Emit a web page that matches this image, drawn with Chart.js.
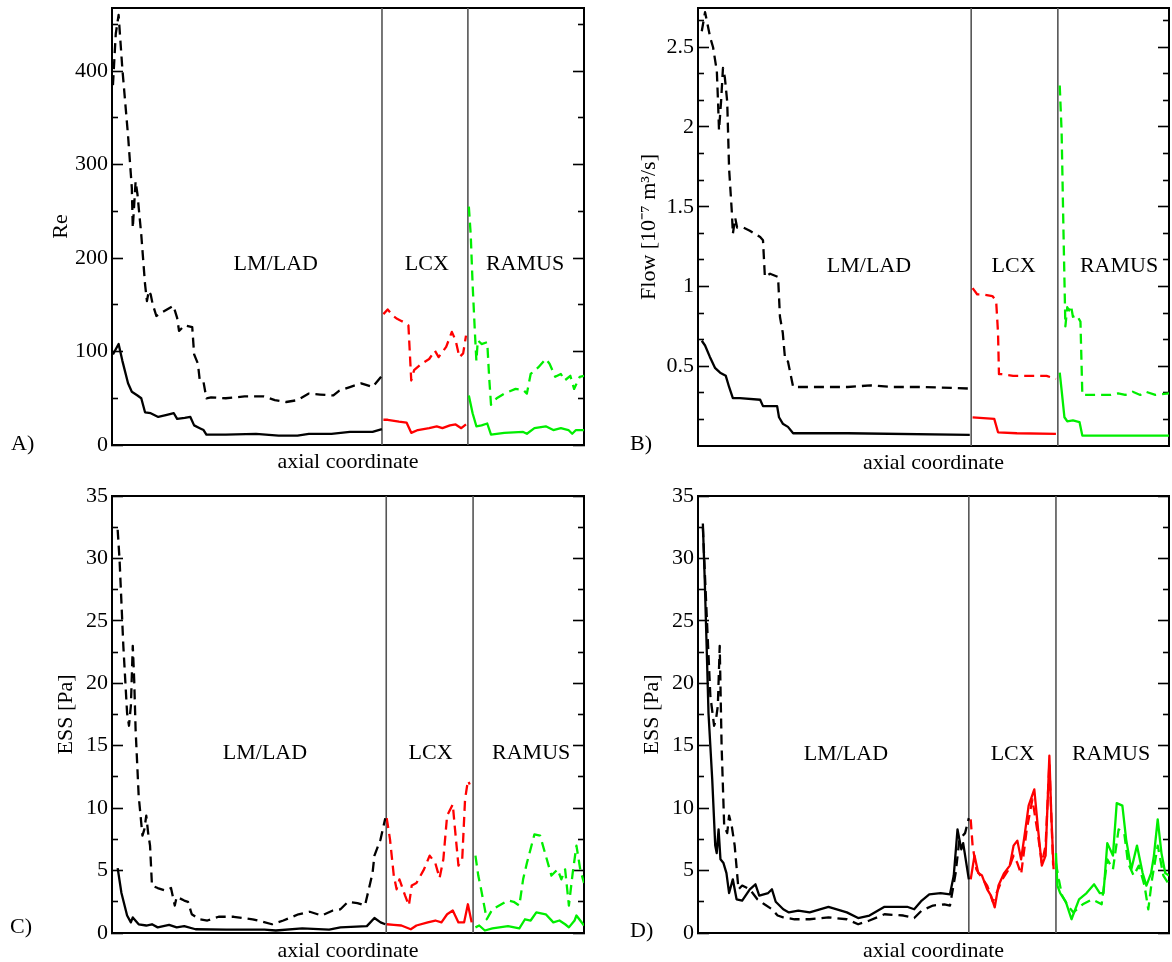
<!DOCTYPE html>
<html>
<head>
<meta charset="utf-8">
<script src="https://cdn.jsdelivr.net/npm/chart.js@4.4.1/dist/chart.umd.min.js"></script>
<style>
  html, body { margin: 0; padding: 0; background: #fff; }
  body { width: 1172px; height: 962px; position: relative; overflow: hidden; }
  .panel { position: absolute; }
  .letter { position: absolute; font-family: "Liberation Serif", serif; font-size: 22px; line-height: 24px; color: #000; }
</style>
</head>
<body>
<div class="panel" style="left:0;top:0;"><canvas id="cA" width="586" height="480"></canvas></div>
<div class="panel" style="left:586px;top:0;"><canvas id="cB" width="586" height="480"></canvas></div>
<div class="panel" style="left:0;top:480px;"><canvas id="cC" width="586" height="482"></canvas></div>
<div class="panel" style="left:586px;top:480px;"><canvas id="cD" width="586" height="482"></canvas></div>
<div class="letter" style="left:11px;top:431px;">A)</div>
<div class="letter" style="left:630px;top:431px;">B)</div>
<div class="letter" style="left:10px;top:914px;">C)</div>
<div class="letter" style="left:630px;top:918px;">D)</div>
<script>
// ---------------- DATA (x = axial coordinate in % of total length) ----------------
const regionNames = ['LM/LAD', 'LCX', 'RAMUS'];

// Panel A : Reynolds number
const reLadDashed = [[0.2,385],[0.8,440],[1.4,460],[2.2,402],[3.4,331],[4.2,275],[4.4,232],[5.0,282],[5.4,268],[6.2,225],[7.0,172],[7.4,154],[7.8,165],[8.2,161],[8.6,151],[9.4,138],[10.6,142],[13.0,149],[13.8,136],[14.2,122],[15.4,128],[17.0,126],[17.4,97],[18.2,87],[18.6,69],[19.4,67],[20.0,50],[21.0,51],[24.1,50],[28.1,52],[32.1,52],[34.5,48],[36.9,46],[39.3,48],[41.7,55],[44.1,54],[46.9,53],[48.1,58],[50.4,62],[52.8,66],[55.2,62],[57.2,74]];
const reLadSolid = [[0.2,97],[1.4,108],[2.2,90],[3.4,66],[4.2,57],[5.4,53],[6.2,50],[7.0,35],[8.2,34],[9.8,30],[11.4,32],[13.1,34],[13.8,28],[15.4,29],[16.6,30],[17.4,21],[18.6,18],[19.4,16],[20.0,11],[24.1,11],[30.5,12],[35.3,10],[39.3,10],[41.7,12],[46.5,12],[50.4,14],[55.2,14],[57.2,17]];
const reLcxDashed = [[57.5,140],[58.4,145],[59.6,138],[60.4,135],[61.2,133],[62.0,131],[62.8,128],[63.4,69],[64.0,80],[65.6,87],[67.2,92],[68.4,101],[69.2,94],[70.8,105],[72.0,121],[72.8,112],[73.6,94],[74.4,98],[75.0,117]];
const reLcxSolid = [[57.5,27],[58.4,27],[60.8,25],[62.4,24],[63.4,13],[64.8,16],[67.2,18],[68.8,20],[70.0,18],[71.6,21],[72.8,22],[74.0,18],[75.0,22]];
const reRamusDashed = [[75.6,255],[76.0,225],[76.4,172],[76.9,119],[77.2,90],[77.5,112],[78.3,108],[79.5,110],[79.9,73],[80.3,43],[81.5,50],[83.1,55],[85.5,60],[87.1,59],[87.9,55],[88.7,76],[90.3,83],[91.9,92],[92.7,87],[93.9,73],[95.1,76],[95.9,69],[97.1,74],[97.9,60],[99.1,73],[100,74]];
const reRamusSolid = [[75.6,53],[76.4,34],[77.2,20],[78.3,21],[79.5,23],[80.3,11],[83.1,13],[87.1,14],[87.9,12],[89.5,18],[91.9,20],[93.5,16],[95.1,18],[96.7,16],[97.5,12],[98.3,16],[100,16]];
const reTicksMajor = [0, 100, 200, 300, 400];
const reTicksMinor = [50, 150, 250, 350, 450];
const reDividers = [57.2, 75.4];

// Panel B : Flow [1e-7 m^3/s]
const flowLadDashed = [[0.8,2.60],[1.5,2.72],[2.6,2.56],[3.2,2.50],[4.0,2.35],[4.25,2.16],[4.46,1.98],[4.9,2.16],[5.3,2.37],[5.7,2.31],[6.2,2.16],[6.6,1.74],[7.2,1.46],[7.4,1.33],[7.9,1.43],[8.3,1.37],[9.6,1.37],[11.0,1.35],[13.2,1.31],[13.8,1.29],[14.2,1.06],[15.3,1.08],[17.0,1.06],[17.4,0.81],[18.0,0.71],[18.5,0.54],[19.1,0.53],[20.2,0.37],[23.9,0.37],[27.9,0.37],[31.8,0.37],[36.6,0.38],[41.4,0.37],[47.8,0.37],[57.7,0.36]];
const flowLadSolid = [[0.8,0.66],[1.5,0.63],[2.5,0.56],[3.6,0.49],[4.7,0.46],[5.9,0.44],[6.6,0.37],[7.4,0.30],[8.9,0.30],[13.2,0.29],[13.8,0.25],[16.8,0.25],[17.2,0.18],[18.0,0.14],[19.1,0.12],[20.2,0.08],[31.8,0.08],[57.7,0.07]];
const flowLcxDashed = [[58.3,0.99],[59.3,0.95],[60.5,0.95],[62.5,0.94],[63.3,0.91],[63.7,0.71],[63.9,0.45],[64.5,0.45],[66.9,0.44],[70.0,0.44],[74.0,0.44],[76.0,0.42]];
const flowLcxSolid = [[58.3,0.18],[62.9,0.17],[63.7,0.086],[67.7,0.08],[76.0,0.076]];
const flowRamusDashed = [[76.8,2.26],[77.2,1.97],[77.6,1.34],[78.0,0.75],[78.4,0.87],[78.8,0.85],[79.2,0.88],[79.6,0.81],[80.4,0.82],[81.2,0.78],[81.6,0.32],[84.4,0.32],[87.6,0.32],[89.2,0.33],[90.7,0.32],[92.3,0.34],[93.9,0.32],[95.1,0.34],[97.1,0.32],[100,0.33]];
const flowRamusSolid = [[76.8,0.46],[77.2,0.35],[77.8,0.18],[78.4,0.155],[79.6,0.16],[81.0,0.15],[81.6,0.065],[87.6,0.065],[100,0.065]];
const flowTicksMajor = [0.5, 1, 1.5, 2, 2.5];
const flowTicksMinor = [1/6, 2/6, 4/6, 5/6, 7/6, 8/6, 10/6, 11/6, 13/6, 14/6, 16/6];
const flowDividers = [58.0, 76.4];

// Panel C : ESS [Pa]
const essCLadDashed = [[1.2,32.3],[1.6,29.9],[2.4,23.0],[3.2,17.6],[3.6,16.6],[4.0,18.2],[4.4,23.0],[4.7,20.3],[5.0,16.3],[5.65,11.0],[6.05,9.4],[6.45,7.8],[6.85,8.3],[7.26,9.4],[7.66,8.0],[8.06,7.0],[8.47,3.8],[9.68,3.6],[11.3,3.4],[12.5,3.6],[13.3,2.2],[13.7,2.9],[15.3,2.6],[16.1,2.5],[16.9,1.5],[18.5,1.1],[20.2,1.0],[22.6,1.3],[25.8,1.3],[29.8,1.1],[33.9,0.7],[36.3,1.0],[39.5,1.5],[41.9,1.7],[44.4,1.4],[46.8,1.8],[48.4,1.9],[50.0,2.5],[52.0,2.4],[53.6,2.2],[54.4,3.5],[55.2,4.8],[55.6,6.2],[56.9,7.5],[57.9,9.2]];
const essCLadSolid = [[1.2,5.2],[2.0,3.2],[3.2,1.4],[4.0,0.85],[4.4,1.25],[5.65,0.7],[7.26,0.6],[8.47,0.7],[9.68,0.45],[12.1,0.65],[13.7,0.45],[15.3,0.55],[17.7,0.3],[24.2,0.27],[32.3,0.27],[34.7,0.2],[40.3,0.37],[46.0,0.27],[48.4,0.45],[54.0,0.55],[55.6,1.2],[56.9,0.85],[57.9,0.7]];
const essCLcxDashed = [[58.2,9.2],[58.9,7.5],[59.7,4.6],[60.3,3.5],[60.9,4.3],[62.1,3.0],[62.9,2.2],[63.5,3.8],[64.5,4.0],[66.1,5.1],[67.3,6.2],[68.5,5.6],[69.4,4.4],[70.2,5.9],[71.0,9.4],[72.2,10.3],[72.6,8.6],[73.4,5.4],[74.2,5.9],[74.8,10.7],[75.4,12.2],[75.8,11.9]];
const essCLcxSolid = [[58.2,0.7],[59.7,0.65],[61.3,0.6],[63.3,0.3],[64.5,0.6],[66.9,0.85],[68.5,1.0],[69.8,0.85],[71.0,1.5],[72.2,1.8],[73.4,0.85],[74.6,0.85],[75.4,2.3],[76.2,0.85]];
const essCRamusDashed = [[77.0,6.2],[77.6,4.6],[78.2,3.5],[79.4,1.1],[80.6,1.9],[83.9,2.6],[85.1,2.5],[86.3,2.2],[87.1,4.3],[87.9,5.6],[89.5,7.9],[90.7,7.8],[91.9,6.2],[93.1,4.6],[94.4,5.1],[95.2,4.3],[96.0,5.1],[96.8,2.2],[97.6,4.8],[98.4,7.0],[99.2,5.1],[100,4.0]];
const essCRamusSolid = [[77.0,0.45],[77.8,0.6],[79.0,0.2],[80.6,0.37],[83.9,0.55],[86.3,0.37],[87.5,1.1],[88.7,1.0],[89.9,1.65],[91.9,1.5],[93.5,0.85],[94.8,1.0],[96.0,0.7],[96.8,0.45],[98.0,1.0],[98.4,1.4],[99.2,1.0],[100,0.6]];
const essCDividers = [58.1, 76.5];

// Panel D : ESS [Pa]
const essDLadSolid = [[1.03,32.8],[1.43,28.3],[1.83,23.0],[2.23,17.6],[3.02,12.3],[3.66,7.0],[3.97,6.4],[4.37,8.3],[4.77,5.9],[5.41,5.6],[6.04,4.8],[6.60,3.2],[7.39,4.3],[8.19,2.7],[9.38,2.6],[11.0,3.5],[12.2,3.9],[13.0,3.0],[14.9,3.2],[15.7,3.5],[16.5,2.5],[18.1,1.9],[19.3,1.65],[21.3,1.8],[23.7,1.65],[27.7,2.1],[31.6,1.65],[34.0,1.2],[36.4,1.4],[39.6,2.1],[42.0,2.1],[44.4,2.1],[45.9,1.9],[47.5,2.6],[49.1,3.1],[51.5,3.2],[53.5,3.1],[54.3,4.6],[55.1,8.3],[55.9,6.7],[56.3,7.2],[57.5,4.3]];
const essDLadDashed = [[1.03,32.5],[1.83,25.6],[2.62,19.0],[3.42,16.6],[3.82,17.1],[4.21,18.2],[4.61,23.0],[5.01,15.0],[5.56,8.6],[6.20,8.0],[6.60,9.4],[7.15,8.6],[7.79,7.0],[8.59,3.5],[9.38,3.8],[11.0,3.5],[12.6,2.7],[14.1,2.3],[15.7,1.9],[16.9,1.4],[18.1,1.25],[20.5,1.1],[23.7,1.1],[27.7,1.25],[31.6,1.1],[34.0,0.7],[36.4,1.0],[39.6,1.5],[43.6,1.4],[45.9,1.2],[47.5,1.8],[49.9,2.2],[52.3,2.3],[53.5,2.2],[54.7,4.8],[55.5,7.5],[56.7,8.0],[57.5,9.2]];
const essDLcxSolid = [[57.9,4.3],[58.7,6.2],[59.5,4.8],[60.3,4.6],[61.4,3.5],[62.2,3.0],[63.0,2.05],[63.8,3.8],[65.0,4.8],[66.2,5.4],[67.0,7.0],[67.8,7.4],[68.6,5.9],[69.4,8.0],[70.2,10.2],[71.4,11.5],[72.2,8.3],[73.0,5.4],[73.8,6.2],[74.6,14.2],[75.0,9.6],[75.5,5.1]];
const essDLcxDashed = [[57.9,9.1],[58.3,7.0],[59.1,5.1],[60.3,4.4],[61.4,3.8],[62.6,2.5],[63.4,3.2],[64.6,4.3],[65.8,5.0],[67.0,6.2],[67.8,5.6],[68.6,4.7],[69.8,8.3],[71.0,10.7],[72.2,7.8],[73.0,5.6],[73.8,7.0],[74.6,13.6],[75.4,5.4]];
const essDRamusSolid = [[76.0,6.4],[76.3,3.8],[76.9,3.2],[78.1,2.5],[79.3,1.1],[80.9,2.7],[82.5,3.2],[84.1,3.9],[85.3,3.2],[86.1,3.2],[86.9,7.2],[88.1,6.2],[88.9,10.4],[90.1,10.2],[90.9,7.5],[92.0,5.1],[93.2,7.0],[94.4,4.8],[95.2,3.8],[96.2,4.8],[96.8,6.2],[97.6,9.1],[98.4,6.4],[99.2,4.8],[100,4.6]];
const essDRamusDashed = [[76.0,5.6],[76.6,4.3],[77.3,3.0],[78.5,2.2],[79.7,1.65],[81.7,2.3],[83.7,2.7],[85.7,2.3],[86.9,5.9],[88.1,5.1],[89.3,8.3],[90.5,8.0],[91.3,5.6],[92.5,4.6],[93.6,5.4],[94.8,3.8],[95.6,1.9],[96.4,4.3],[97.6,7.0],[98.8,4.6],[99.8,4.0]];
const essDDividers = [57.5, 76.0];

const essTicksMajor = [0, 5, 10, 15, 20, 25, 30, 35];
const essTicksMinor = [2.5, 7.5, 12.5, 17.5, 22.5, 27.5, 32.5];

// ---------------- STYLE ----------------
const FONT = '"Liberation Serif", "Times New Roman", serif';
const FS = 22;
const BLACK = '#000000', RED = '#ff0000', GREEN = '#00ee00', DIV = '#555555';

const pts = arr => arr.map(([x, y]) => ({x, y}));

function line(data, color, dashed) {
  return {
    data: pts(data), borderColor: color, borderWidth: 2.3,
    borderDash: dashed ? [10, 6] : [], pointRadius: 0, tension: 0,
    borderJoinStyle: 'round', fill: false, xAxisID: 'x', yAxisID: 'y'
  };
}

const regionText = {
  id: 'regionText',
  afterDatasetsDraw(chart, args, opts) {
    const {ctx} = chart;
    const xs = chart.scales.x, ys = chart.scales.y;
    ctx.save();
    ctx.font = FS + 'px ' + FONT;
    ctx.fillStyle = '#000';
    ctx.textAlign = 'center';
    ctx.textBaseline = 'middle';
    opts.items.forEach((it, i) => {
      ctx.fillText(regionNames[i], xs.getPixelForValue(it[0]), ys.getPixelForValue(it[1]));
    });
    ctx.restore();
  }
};

function noPad(s) { s.paddingTop = 0; s.paddingBottom = 0; s.paddingLeft = 0; s.paddingRight = 0; }

function makePanel(id, p) {
  const datasets = [];
  p.series.forEach(s => datasets.push(line(s[0], s[1], s[2])));
  p.dividers.forEach(d => datasets.push({
    data: [{x: d, y: p.yMin}, {x: d, y: p.yMax}], borderColor: DIV, borderWidth: 1.6,
    pointRadius: 0, borderDash: [], xAxisID: 'x', yAxisID: 'y'
  }));
  const tickFont = {family: FONT, size: FS};
  const setTicks = list => (s => { s.ticks = list.map(v => ({value: v})); });
  const yBase = (list, pos, len, labels, weight, w) => ({
    type: 'linear', position: pos, min: p.yMin, max: p.yMax, weight: weight,
    afterBuildTicks: setTicks(list),
    afterFit: s => { s.width = w; noPad(s); },
    grid: {drawOnChartArea: false, drawTicks: true, tickLength: len, tickWidth: 1.6, tickColor: '#000'},
    border: {display: false},
    ticks: {display: labels, font: tickFont, color: '#000', padding: 15, autoSkip: false, maxRotation: 0,
      callback: v => p.fmt(v)}
  });
  const yMain = yBase(p.major, 'left', -11, true, 2, p.left);
  yMain.border = {display: true, color: '#000', width: 2};
  yMain.title = {display: true, text: p.yTitle, color: '#000',
    font: {family: FONT, size: FS, lineHeight: 1}, padding: {top: p.yTitlePad, bottom: 0}};
  const scales = {
    x: {
      type: 'linear', position: 'bottom', min: 0, max: 100,
      afterFit: s => { s.height = p.bottomH; noPad(s); },
      grid: {display: false, drawTicks: false},
      border: {display: true, color: '#000', width: 2},
      ticks: {display: false},
      title: {display: true, text: 'axial coordinate', color: '#000',
        font: {family: FONT, size: FS, lineHeight: 1}, padding: {top: 0, bottom: p.xTitlePad}}
    },
    xTop: {
      type: 'linear', position: 'top', min: 0, max: 100,
      afterFit: s => { s.height = 0; noPad(s); },
      grid: {display: false, drawTicks: false},
      border: {display: true, color: '#000', width: 2},
      ticks: {display: false}
    },
    y: yMain,
    yMinor: yBase(p.minor, 'left', -6, false, 1, 0),
    yR: Object.assign(yBase(p.major, 'right', -11, false, 1, 0), {border: {display: true, color: '#000', width: 2}}),
    yRMinor: yBase(p.minor, 'right', -6, false, 2, 0)
  };
  new Chart(document.getElementById(id), {
    type: 'line',
    data: {datasets},
    options: {
      responsive: false, animation: false, events: [],
      layout: {padding: {top: p.top, right: p.right, left: 0, bottom: 0}},
      plugins: {legend: {display: false}, tooltip: {enabled: false}, title: {display: false},
        regionText: {items: p.labels}},
      scales
    },
    plugins: [regionText]
  });
}

function build() {
  makePanel('cA', {
    yMin: 0, yMax: 467.5, major: reTicksMajor, minor: reTicksMinor, fmt: v => String(v),
    yTitle: 'Re', yTitlePad: 50, left: 112, right: 2, top: 8, bottomH: 35, xTitlePad: 7,
    dividers: reDividers,
    series: [[reLadDashed, BLACK, true], [reLadSolid, BLACK, false],
             [reLcxDashed, RED, true], [reLcxSolid, RED, false],
             [reRamusDashed, GREEN, true], [reRamusSolid, GREEN, false]],
    labels: [[34.7, 193], [66.7, 193], [87.5, 193]]
  });
  makePanel('cB', {
    yMin: 0, yMax: 2.746, major: flowTicksMajor, minor: flowTicksMinor, fmt: v => String(v),
    yTitle: 'Flow [10\u207B\u2077 m\u00B3/s]', yTitlePad: 52, left: 112, right: 3, top: 8, bottomH: 34, xTitlePad: 6,
    dividers: flowDividers,
    series: [[flowLadDashed, BLACK, true], [flowLadSolid, BLACK, false],
             [flowLcxDashed, RED, true], [flowLcxSolid, RED, false],
             [flowRamusDashed, GREEN, true], [flowRamusSolid, GREEN, false]],
    labels: [[36.3, 1.126], [67.0, 1.126], [89.4, 1.126]]
  });
  makePanel('cC', {
    yMin: 0, yMax: 35, major: essTicksMajor, minor: essTicksMinor, fmt: v => String(v),
    yTitle: 'ESS [Pa]', yTitlePad: 55, left: 112, right: 2, top: 16, bottomH: 29, xTitlePad: 0,
    dividers: essCDividers,
    series: [[essCLadDashed, BLACK, true], [essCLadSolid, BLACK, false],
             [essCLcxDashed, RED, true], [essCLcxSolid, RED, false],
             [essCRamusDashed, GREEN, true], [essCRamusSolid, GREEN, false]],
    labels: [[32.4, 14.4], [67.5, 14.4], [88.8, 14.4]]
  });
  makePanel('cD', {
    yMin: 0, yMax: 35, major: essTicksMajor, minor: essTicksMinor, fmt: v => String(v),
    yTitle: 'ESS [Pa]', yTitlePad: 55, left: 112, right: 3, top: 16, bottomH: 29, xTitlePad: 0,
    dividers: essDDividers,
    series: [[essDLadSolid, BLACK, false], [essDLadDashed, BLACK, true],
             [essDLcxSolid, RED, false], [essDLcxDashed, RED, true],
             [essDRamusSolid, GREEN, false], [essDRamusDashed, GREEN, true]],
    labels: [[31.4, 14.3], [66.8, 14.3], [87.7, 14.3]]
  });
}

if (document.fonts && document.fonts.load) {
  document.fonts.load(FS + 'px "Liberation Serif"').then(build, build);
} else { build(); }
</script>
</body>
</html>
